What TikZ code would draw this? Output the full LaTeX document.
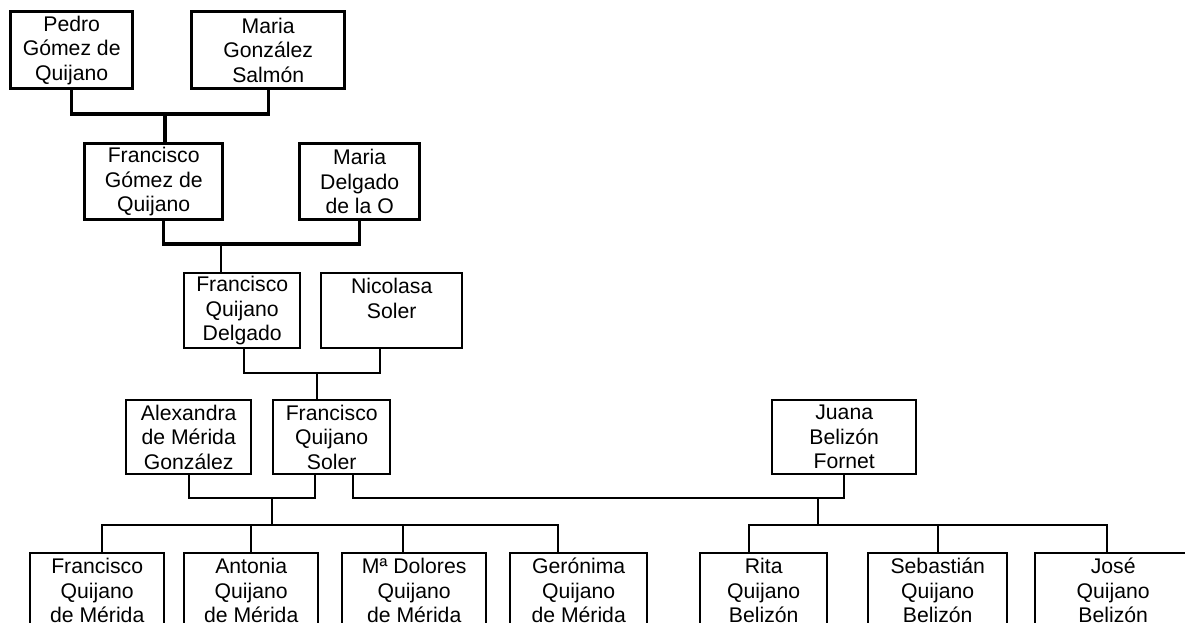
\documentclass[tikz,border=0pt]{standalone}
\usepackage{fontspec}
\setmainfont{Liberation Sans}
\usepackage{tikz}

\tikzset{
  person/.style={draw, line width=2.4pt, inner sep=0pt, anchor=north west,
    align=center, font=\fontsize{21.2}{24.5}\selectfont},
  elder/.style={person, line width=3.4pt},
  link/.style={line width=2.4pt},
  oldlink/.style={line width=3.4pt}
}

\begin{document}
\begin{tikzpicture}[x=1pt, y=-1pt]
        \useasboundingbox (0,0) rectangle (1185,623);
        \clip (0,0) rectangle (1185,623);

        \node[elder, minimum width=122pt, minimum height=77pt] (pedro) at (9,10) {Pedro\\Gómez de\\Quijano};
        \node[elder, minimum width=153pt, minimum height=77pt] (mariaG) at (190,10) {Maria\\González\\Salmón};
        \node[elder, minimum width=138pt, minimum height=76pt] (fgq) at (83,142) {Francisco\\Gómez de\\Quijano};
        \node[elder, minimum width=120pt, minimum height=76pt] (mariaD) at (298,142) {Maria\\Delgado\\de la O};

        \node[person, minimum width=116pt, minimum height=75pt] (fqd) at (183,272) {Francisco\\Quijano\\Delgado};
        \node[person, minimum width=141pt, minimum height=75pt] (nicolasa) at (320,272) {Nicolasa\\Soler\\ \mbox{}};

        \node[person, minimum width=125pt, minimum height=74pt] (alexandra) at (125,399) {Alexandra\\de Mérida\\González};
        \node[person, minimum width=117pt, minimum height=74pt] (fqs) at (272,399) {Francisco\\Quijano\\Soler};
        \node[person, minimum width=144pt, minimum height=74pt] (juana) at (771,399) {Juana\\Belizón\\Fornet};

        \node[person, minimum width=134pt, minimum height=75pt] (fqm) at (29,552) {Francisco\\Quijano\\de Mérida};
        \node[person, minimum width=134pt, minimum height=75pt] (antonia) at (183,552) {Antonia\\Quijano\\de Mérida};
        \node[person, minimum width=144pt, minimum height=75pt] (mdolores) at (341,552) {Mª Dolores\\Quijano\\de Mérida};
        \node[person, minimum width=137pt, minimum height=75pt] (geronima) at (509,552) {Gerónima\\Quijano\\de Mérida};
        \node[person, minimum width=127pt, minimum height=75pt] (rita) at (699,552) {Rita\\Quijano\\Belizón};
        \node[person, minimum width=139pt, minimum height=75pt] (sebastian) at (867,552) {Sebastián\\Quijano\\Belizón};
        \node[person, minimum width=156pt, minimum height=75pt] (jose) at (1034,552) {José\\Quijano\\Belizón};

        \coordinate (c1) at (165,114);
        \coordinate (c2) at (221,244);
        \coordinate (c3) at (317,373);
        \coordinate (c4) at (272,498);
        \coordinate (c5) at (818,498);
        \coordinate (b1) at (272,525);
        \coordinate (b2) at (818,525);

        \draw[oldlink]
         (pedro.south) |- (c1) -| (mariaG.south)
         (c1) -- (c1 |- fgq.north)
         ([xshift=10pt]fgq.south) |- (c2) -| (mariaD.south);
        \draw[link]
         (c2) -- (c2 |- fqd.north)
         ([xshift=2pt]fqd.south) |- (c3) -| ([xshift=-11.5pt]nicolasa.south)
         (c3) -- (c3 |- fqs.north)

         (alexandra.south) |- (c4) -| ([xshift=-16.5pt]fqs.south)
         ([xshift=21.5pt]fqs.south) |- (c5) -| (juana.south)
         (c4) -- (b1)
         (c5) -- (b2)

         ([xshift=5pt]fqm.north) |- (b1) -| ([xshift=-20.5pt]geronima.north)
         (antonia.north) -- (antonia.north |- b1)
         ([xshift=-11pt]mdolores.north) -- ([xshift=-11pt]mdolores.north |- b1)

         ([xshift=-14.5pt]rita.north) |- (b2) -| ([xshift=-6pt]jose.north)
         (sebastian.north) -- (sebastian.north |- b2);
\end{tikzpicture}
\end{document}
